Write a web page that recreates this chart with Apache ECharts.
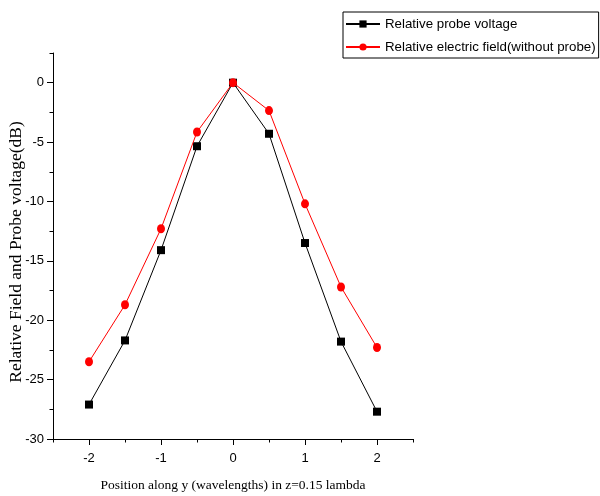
<!DOCTYPE html>
<html>
<head>
<meta charset="utf-8">
<script src="https://cdn.jsdelivr.net/npm/echarts@6/dist/echarts.min.js"></script>
<style>
  html, body { margin: 0; padding: 0; background: #fff; }
  #chart { width: 600px; height: 496px; }
</style>
</head>
<body>
<div id="chart"></div>
<script>
// Position along y, in wavelengths
const positions = [-2, -1.5, -1, -0.5, 0, 0.5, 1, 1.5, 2];
// Relative probe voltage (dB)
const probeVoltage = [-27.1, -21.7, -14.1, -5.35, 0, -4.3, -13.5, -21.8, -27.7];
// Relative electric field without the probe (dB)
const fieldNoProbe = [-23.5, -18.7, -12.3, -4.15, 0, -2.35, -10.2, -17.2, -22.3];

// Axis ticks: labelled major ticks and unlabelled minor ticks
const xMajorTicks = [-2, -1, 0, 1, 2];
const xMinorTicks = [-2.5, -1.5, -0.5, 0.5, 1.5, 2.5];
const yMajorTicks = [0, -5, -10, -15, -20, -25, -30];
const yMinorTicks = [2.5, -2.5, -7.5, -12.5, -17.5, -22.5, -27.5];

const seriesNames = ['Relative probe voltage', 'Relative electric field(without probe)'];
const xTitle = 'Position along y (wavelengths) in z=0.15 lambda';
const yTitle = 'Relative Field and Probe voltage(dB)';

const pairs = (xs, ys) => xs.map((x, i) => [x, ys[i]]);

const chart = echarts.init(document.getElementById('chart'), null, { renderer: 'canvas' });

const sans = 'Liberation Sans, Arial, sans-serif';
const serif = 'Liberation Serif, Times New Roman, serif';
const axisFont = { fontFamily: sans, fontSize: 13, color: '#000' };
const xRange = { min: -2.5, max: 2.5 };
const yRange = { min: -30, max: 2.5 };
const blackLine = { color: '#000', width: 1 };

chart.setOption({
  animation: false,
  backgroundColor: '#fff',
  grid: { left: 53, right: 187, top: 53, bottom: 57, containLabel: false, outerBoundsMode: 'none' },
  legend: {
    orient: 'vertical',
    left: 343,
    top: 12,
    padding: [5, 3, 4, 2],
    itemGap: 9,
    itemWidth: 34,
    itemHeight: 9,
    borderColor: '#000',
    borderWidth: 1,
    borderRadius: 0,
    textStyle: { fontFamily: sans, fontSize: 13.3, lineHeight: 14, color: '#000' },
    data: seriesNames
  },
  // Vertical axis title, rotated to read bottom-to-top
  graphic: [
    {
      type: 'text',
      x: 16,
      y: 252,
      rotation: Math.PI / 2,
      style: {
        text: yTitle,
        fontFamily: serif,
        fontSize: 17.5,
        fill: '#000',
        align: 'center',
        verticalAlign: 'middle'
      }
    }
  ],
  xAxis: [
    {
      type: 'value',
      ...xRange,
      name: xTitle,
      nameLocation: 'middle',
      nameGap: 39,
      nameTextStyle: { fontFamily: serif, fontSize: 13.5, color: '#000' },
      axisLine: { show: true, onZero: false, lineStyle: blackLine },
      axisTick: { show: true, inside: false, length: 6, customValues: xMajorTicks, lineStyle: blackLine },
      axisLabel: { ...axisFont, margin: 13, customValues: xMajorTicks },
      splitLine: { show: false }
    },
    {
      type: 'value',
      ...xRange,
      position: 'bottom',
      axisLine: { show: false, onZero: false },
      axisTick: { show: true, inside: false, length: 3.5, customValues: xMinorTicks, lineStyle: blackLine },
      axisLabel: { show: false },
      splitLine: { show: false }
    }
  ],
  yAxis: [
    {
      type: 'value',
      ...yRange,
      axisLine: { show: true, onZero: false, lineStyle: blackLine },
      axisTick: { show: true, inside: false, length: 6, customValues: yMajorTicks, lineStyle: blackLine },
      axisLabel: { ...axisFont, margin: 9, customValues: yMajorTicks },
      splitLine: { show: false }
    },
    {
      type: 'value',
      ...yRange,
      position: 'left',
      axisLine: { show: false, onZero: false },
      axisTick: { show: true, inside: false, length: 3.5, customValues: yMinorTicks, lineStyle: blackLine },
      axisLabel: { show: false },
      splitLine: { show: false }
    }
  ],
  series: [
    {
      name: seriesNames[0],
      type: 'line',
      xAxisIndex: 0,
      yAxisIndex: 0,
      data: pairs(positions, probeVoltage),
      symbol: 'rect',
      symbolSize: 8,
      showAllSymbol: true,
      lineStyle: { color: '#000', width: 1 },
      itemStyle: { color: '#000' },
      z: 2
    },
    {
      name: seriesNames[1],
      type: 'line',
      xAxisIndex: 0,
      yAxisIndex: 0,
      data: pairs(positions, fieldNoProbe),
      symbol: 'circle',
      symbolSize: [8, 9],
      showAllSymbol: true,
      lineStyle: { color: '#ff0000', width: 1 },
      itemStyle: { color: '#ff0000' },
      z: 3
    }
  ]
});
</script>
</body>
</html>
